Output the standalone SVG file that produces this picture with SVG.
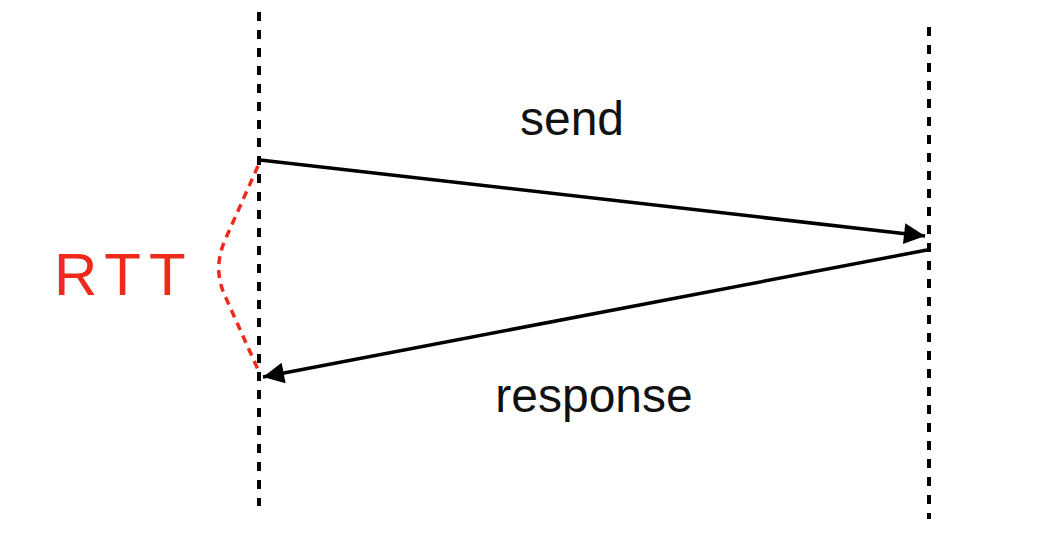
<svg xmlns="http://www.w3.org/2000/svg" width="1060" height="539" viewBox="0 0 1060 539">
<style>
.life{stroke:#000;stroke-width:4;stroke-dasharray:9 9;fill:none}
.msg{stroke:#000;stroke-width:3.5;fill:none}
.lbl{font-family:"Liberation Sans",Arial,sans-serif;font-size:48px;fill:#111;text-anchor:middle}
.rtt{stroke:#ee2a1c;stroke-width:3.5;stroke-dasharray:8 6;fill:none}
</style>
<defs>
<marker id="ah" viewBox="0 0 10 10" refX="10" refY="5" markerWidth="6.5" markerHeight="6" markerUnits="strokeWidth" orient="auto">
<path d="M0,0 L10,5 L0,10 Z" fill="#000"/>
</marker>
</defs>
<rect width="1060" height="539" fill="#fff"/>
<g id="client"><line class="life" x1="259" y1="12" x2="259" y2="506"/></g>
<g id="server"><line class="life" x1="929" y1="27" x2="929" y2="519"/></g>
<g id="connectors">
<line class="msg" x1="260" y1="160" x2="925" y2="236" marker-end="url(#ah)"/>
<line class="msg" x1="927" y1="250" x2="263" y2="377" marker-end="url(#ah)"/>
<path class="rtt" d="M258,166 L225,240 Q212,270 226,298 L259,372"/>
</g>
<g id="labels">
<text class="lbl" x="572" y="135">send</text>
<text class="lbl" x="594" y="412">response</text>
<text x="54" y="295" style="font-family:'Liberation Sans',Arial,sans-serif;font-size:60px;fill:#ee2a1c;letter-spacing:8px">RTT</text>
</g>
</svg>
